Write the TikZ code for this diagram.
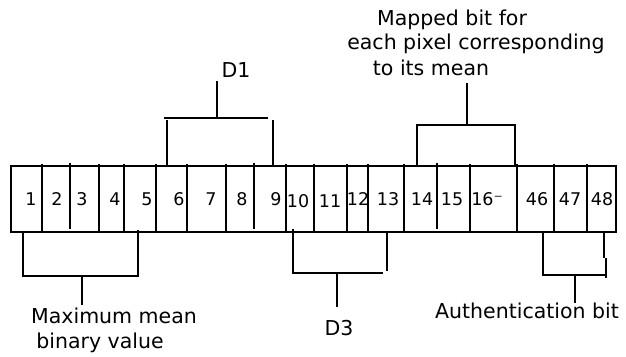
\documentclass[tikz,border=0pt]{standalone}
\usepackage{fontspec}
\setmainfont{DejaVu Sans}
\begin{document}
\begin{tikzpicture}[x=1pt,y=-1pt,
  line width=2.8pt,
  num/.style={font=\fontsize{17.5}{18}\selectfont, inner sep=0pt, anchor=base},
  lbl/.style={font=\fontsize{20.5}{22}\selectfont, inner sep=0pt, anchor=base},
  brk/.style={line width=2.8pt}]
\useasboundingbox (0,0) rectangle (626,356);
% outer frame of the cells
\draw (11,166) rectangle (616,232);
% full dividers
\foreach \x in {42,99,124,156,187,226,286,314,347,368,404,470,517,554,587}
  \draw (\x,164) -- (\x,232);
% short dividers
\foreach \x in {70,254,437}
  \draw (\x,163) -- (\x,229);
% numbers
\foreach \x/\t/\n in {31/1/n1,57/2/n2,82/3/n3,115/4/n4,147/5/n5,179/6/n6,211/7/n7,242/8/n8,276/9/n9,358/12/n12,388/13/n13,422/14/n14,452/15/n15,487/16⁻/n16,537/46/n46,570/47/n47,602/48/n48}
  \node[num] (\n) at (\x,205) {\t};
\node[num] (n10) at (298,207) {10};
\node[num] (n11) at (330,207) {11};
% labels
\node[lbl] (d1) at (236,77) {D1};
\node[lbl] (map1) at (452,25) {Mapped bit for};
\node[lbl] (map2) at (476,49) {each pixel corresponding};
\node[lbl] (map3) at (431,75) {to its mean};
\node[lbl] (max1) at (114,323) {Maximum mean};
\node[lbl] (max2) at (100,348) {binary value};
\node[lbl] (d3) at (339,335) {D3};
\node[lbl] (auth) at (527,318) {Authentication bit};
% bracket coordinates
\coordinate (d1s) at (217,81);
\coordinate (d1m) at (217,118);
\coordinate (mps) at (467,83);
\coordinate (mpm) at (467,125);
\coordinate (mxs) at (82,305);
\coordinate (mxm) at (82,276);
\coordinate (d3s) at (337,307);
\coordinate (d3m) at (337,273);
\coordinate (aus) at (575,303);
\coordinate (aum) at (575,276);
% D1 bracket
\draw[brk] (d1s) -- (d1m);
\draw[brk] (164,118) -- (268,118);
\draw[brk] (167,120) -- (167,166);
\draw[brk] (273,120) -- (273,166);
% mapped bit bracket
\draw[brk] (mps) -- (mpm);
\draw[brk] (417,166) -- (417,125) -- (515,125) -- (515,166);
% maximum mean bracket
\draw[brk] (mxs) -- (mxm);
\draw[brk] (23,232) -- (23,276) -- (138,276) -- (138,230);
% D3 bracket
\draw[brk] (d3s) -- (d3m);
\draw[brk] (293,229) -- (293,273) -- (383,273);
\draw[brk] (387,232) -- (387,271);
% authentication bracket
\draw[brk] (aus) -- (aum);
\draw[brk] (543,232) -- (543,275) -- (606,275);
\draw[brk] (604,232) -- (604,258);
\draw[brk] (606,258) -- (606,278);
\end{tikzpicture}
\end{document}
